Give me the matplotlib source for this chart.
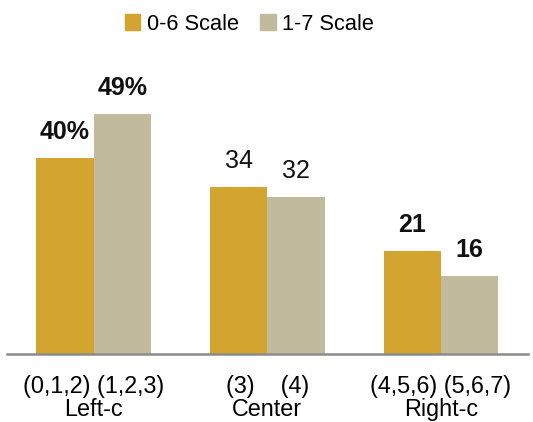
import matplotlib
matplotlib.use("Agg")
import matplotlib.pyplot as plt
from matplotlib.patches import Patch
import numpy as np

groups = ["(0,1,2) (1,2,3)\nLeft-c", "(3)    (4)\nCenter", "(4,5,6) (5,6,7)\nRight-c"]
series = ["0-6 Scale", "1-7 Scale"]
scale_06 = [40, 34, 21]
scale_17 = [49, 32, 16]
labels_06 = ["40%", "34", "21"]
labels_17 = ["49%", "32", "16"]
bold_06 = [True, False, True]
bold_17 = [True, False, True]

GOLD = "#D3A42F"
BEIGE = "#C2BA9C"
plt.rcParams["font.family"] = ["Liberation Sans", "DejaVu Sans"]

fig = plt.figure(figsize=(5.33, 4.22), dpi=100)
ax = fig.add_axes([0.013, 0.161, 0.977, 0.697])
x = np.arange(len(groups))
w = 0.33
b1 = ax.bar(x - w / 2, scale_06, w, color=GOLD)
b2 = ax.bar(x + w / 2, scale_17, w, color=BEIGE)

for bars, labs, bolds in ((b1, labels_06, bold_06), (b2, labels_17, bold_17)):
    for b, lab, bd in zip(bars, labs, bolds):
        ax.annotate(lab, (b.get_x() + b.get_width() / 2, b.get_height()),
                    xytext=(0, 10), textcoords="offset points", ha="center", va="bottom",
                    fontsize=18, fontweight="bold" if bd else "normal", color="#111")

ax.set_xlim(-0.5, 2.5)
ax.set_ylim(0, 60)
ax.set_yticks([])
ax.set_xticks(x)
ax.set_xticklabels(groups, fontsize=16.8, linespacing=0.98)
ax.tick_params(axis="x", length=0, pad=15)
for s in ("top", "right", "left"):
    ax.spines[s].set_visible(False)
ax.spines["bottom"].set_color("#8C8C8C")
ax.spines["bottom"].set_linewidth(1.8)

handles = [Patch(color=GOLD, label=series[0]), Patch(color=BEIGE, label=series[1])]
fig.legend(handles=handles, loc="center", bbox_to_anchor=(0.468, 0.943), ncol=2,
           frameon=False, fontsize=15.7, handlelength=0.7, handleheight=0.7,
           handletextpad=0.3, columnspacing=1.0)

fig.savefig("out.png", dpi=100)
